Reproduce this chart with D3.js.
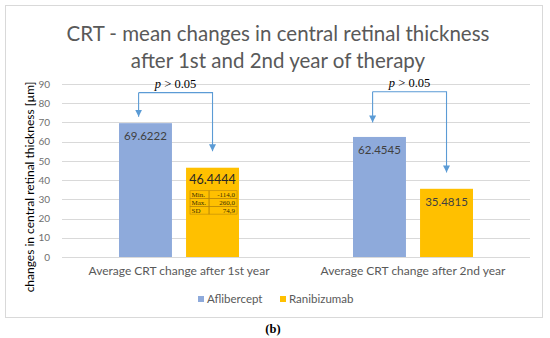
<!DOCTYPE html>
<html>
<head>
<meta charset="utf-8">
<script src="https://cdn.jsdelivr.net/npm/d3@7"></script>
<style>
  body { margin: 0; background: #fff; }
  svg { display: block; }
</style>
</head>
<body>
<svg id="chart" width="550" height="338"></svg>
<script>
// chart data
const categories = ['Average CRT change after 1st year', 'Average CRT change after 2nd year']
const seriesNames = ['Aflibercept', 'Ranibizumab']
const aflibercept = [69.6222, 62.4545]
const ranibizumab = [46.4444, 35.4815]
const yTicks = [0, 10, 20, 30, 40, 50, 60, 70, 80, 90]
const statsRows = [['Min.', '-114,0'], ['Max.', '260,0'], ['SD', '74,9']]
// bracket ends for the p-value arrows (data units)
const bracketLevel = [85.5, 86]
const arrowEnds = [[73, 55], [70, 44]]
const pText = 'p > 0.05'

const colors = ['#8eaadb', '#ffc000']
const textGray = '#595959'
const arrowBlue = '#5b9bd5'
const serif = '"Liberation Serif", "Times New Roman", "DejaVu Serif", serif'
const sans = 'Lato, "Open Sans", sans-serif'

const svg = d3.select('#chart')
const margin = { left: 62, right: 20, top: 84, bottom: 81 }
const W = 550, H = 338

// outer chart frame
svg.append('rect')
    .attr('x', 5.5).attr('y', 5.5)
    .attr('width', 537).attr('height', 312)
    .attr('fill', '#fff')
    .attr('stroke', '#d9d9d9')

const x0 = d3.scaleBand()
    .domain(categories)
    .range([margin.left, W - margin.right])
    .paddingInner(0)
    .paddingOuter(0)

const x1 = d3.scaleBand()
    .domain(seriesNames)
    .range([57, x0.bandwidth() - 57])
    .paddingInner(0.21)

const y = d3.scaleLinear()
    .domain([0, 90])
    .range([H - margin.bottom, margin.top])

// gridlines
svg.append('g')
    .selectAll('line')
    .data(yTicks)
    .enter()
    .append('line')
    .attr('x1', margin.left)
    .attr('x2', W - margin.right)
    .attr('y1', d => Math.round(y(d)) + 0.5)
    .attr('y2', d => Math.round(y(d)) + 0.5)
    .attr('stroke', '#d9d9d9')
    .attr('stroke-width', 1)

// y axis labels
const yAxis = d3.axisLeft(y).tickValues(yTicks).tickSize(0).tickPadding(12)
svg.append('g')
    .attr('transform', `translate(${margin.left},0)`)
    .call(yAxis)
    .call(g => g.select('.domain').remove())
    .selectAll('text')
    .attr('fill', '#6f6f6f')
    .style('font-family', sans)
    .style('font-size', '10px')

// y axis title
svg.append('text')
    .attr('transform', `translate(34,${187}) rotate(-90)`)
    .attr('text-anchor', 'middle')
    .attr('fill', '#000')
    .style('font-family', sans)
    .style('font-size', '12px')
    .text('changes in central retinal thickness [\u00b5m]')

// x axis labels
const xAxis = d3.axisBottom(x0).tickSize(0).tickPadding(9)
svg.append('g')
    .attr('transform', `translate(0,${y(0)})`)
    .call(xAxis)
    .call(g => g.select('.domain').remove())
    .selectAll('text')
    .attr('fill', textGray)
    .style('font-family', sans)
    .style('font-size', '12px')

// bars
const rows = categories.map((c, i) => ({ cat: c, vals: [aflibercept[i], ranibizumab[i]] }))
const groups = svg.append('g')
    .selectAll('g')
    .data(rows)
    .enter()
    .append('g')
    .attr('transform', d => `translate(${x0(d.cat)},0)`)

groups.selectAll('rect')
    .data(d => d.vals.map((v, j) => ({ name: seriesNames[j], v, j })))
    .enter()
    .append('rect')
    .attr('x', d => x1(d.name))
    .attr('y', d => y(d.v))
    .attr('width', x1.bandwidth())
    .attr('height', d => y(0) - y(d.v))
    .attr('fill', d => colors[d.j])

groups.selectAll('text.val')
    .data(d => d.vals.map((v, j) => ({ name: seriesNames[j], v, j, big: d.cat === categories[0] && j === 1 })))
    .enter()
    .append('text')
    .attr('class', 'val')
    .attr('x', d => x1(d.name) + x1.bandwidth() / 2)
    .attr('y', d => y(d.v) + (d.big ? 16 : 17))
    .attr('text-anchor', 'middle')
    .attr('fill', d => d.big ? '#262626' : '#404040')
    .style('font-family', sans)
    .style('font-size', d => d.big ? '12.5px' : '11.5px')
    .text(d => d.v.toFixed(4))

// small stats table inside first Ranibizumab bar
const tx = x0(categories[0]) + x1(seriesNames[1]) + 4
const ty = y(ranibizumab[0]) + 23
const cellW = [19, 28], cellH = 7.8
const table = svg.append('g').attr('transform', `translate(${tx},${ty})`)
statsRows.forEach((r, i) => {
    let cx = 0
    r.forEach((t, k) => {
        table.append('rect')
            .attr('x', cx).attr('y', i * cellH)
            .attr('width', cellW[k]).attr('height', cellH)
            .attr('fill', 'none')
            .attr('stroke', '#b8860b')
            .attr('stroke-width', 0.6)
        table.append('text')
            .attr('x', k === 0 ? cx + 1.5 : cx + cellW[k] - 2)
            .attr('y', i * cellH + cellH - 1.6)
            .attr('text-anchor', k === 0 ? 'start' : 'end')
            .attr('fill', '#3a3000')
            .style('font-family', serif)
            .style('font-size', '7px')
            .text(t)
        cx += cellW[k]
    })
})

// p-value brackets with arrows
const defs = svg.append('defs')
defs.append('marker')
    .attr('id', 'arrow')
    .attr('viewBox', '0 0 10 10')
    .attr('refX', 10).attr('refY', 5)
    .attr('markerWidth', 7).attr('markerHeight', 7)
    .attr('markerUnits', 'userSpaceOnUse')
    .attr('orient', 'auto')
    .append('path')
    .attr('d', 'M0,0 L10,5 L0,10 z')
    .attr('fill', arrowBlue)

categories.forEach((c, i) => {
    const xa = x0(c) + x1(seriesNames[0]) + x1.bandwidth() * 0.37
    const xb = x0(c) + x1(seriesNames[1]) + x1.bandwidth() * 0.5
    const yl = y(bracketLevel[i])
    svg.append('path')
        .attr('d', `M${xa},${yl} L${xb},${yl} L${xb},${y(arrowEnds[i][1])}`)
        .attr('fill', 'none')
        .attr('stroke', arrowBlue)
        .attr('stroke-width', 1.1)
        .attr('marker-end', 'url(#arrow)')
    svg.append('path')
        .attr('d', `M${xa},${yl} L${xa},${y(arrowEnds[i][0])}`)
        .attr('fill', 'none')
        .attr('stroke', arrowBlue)
        .attr('stroke-width', 1.1)
        .attr('marker-end', 'url(#arrow)')
    const t = svg.append('text')
        .attr('x', (xa + xb) / 2)
        .attr('y', yl - 4.5)
        .attr('text-anchor', 'middle')
        .attr('fill', '#000')
        .style('font-family', serif)
        .style('font-weight', 'normal')
        .style('font-size', '12.5px')
    t.append('tspan').style('font-style', 'italic').text('p')
    t.append('tspan').text(pText.slice(1))
})

// title
const title = svg.append('text')
    .attr('text-anchor', 'middle')
    .attr('fill', textGray)
    .style('font-family', sans)
    .style('font-size', '20.5px')
title.append('tspan').attr('x', 278).attr('y', 41).text('CRT - mean changes in central retinal thickness')
title.append('tspan').attr('x', 278).attr('y', 68).text('after 1st and 2nd year of therapy')

// legend
const legend = svg.append('g')
    .selectAll('g')
    .data(seriesNames)
    .enter()
    .append('g')
    .attr('transform', (d, i) => `translate(${[198, 280][i]},296)`)
legend.append('rect')
    .attr('width', 6).attr('height', 6)
    .attr('fill', (d, i) => colors[i])
legend.append('text')
    .attr('x', 9).attr('y', 7)
    .attr('fill', textGray)
    .style('font-family', sans)
    .style('font-size', '11.5px')
    .text(d => d)

// caption
svg.append('text')
    .attr('x', 273).attr('y', 333)
    .attr('text-anchor', 'middle')
    .style('font-family', serif)
    .style('font-size', '12.5px')
    .style('font-weight', 'bold')
    .text('(b)')
</script>
</body>
</html>
